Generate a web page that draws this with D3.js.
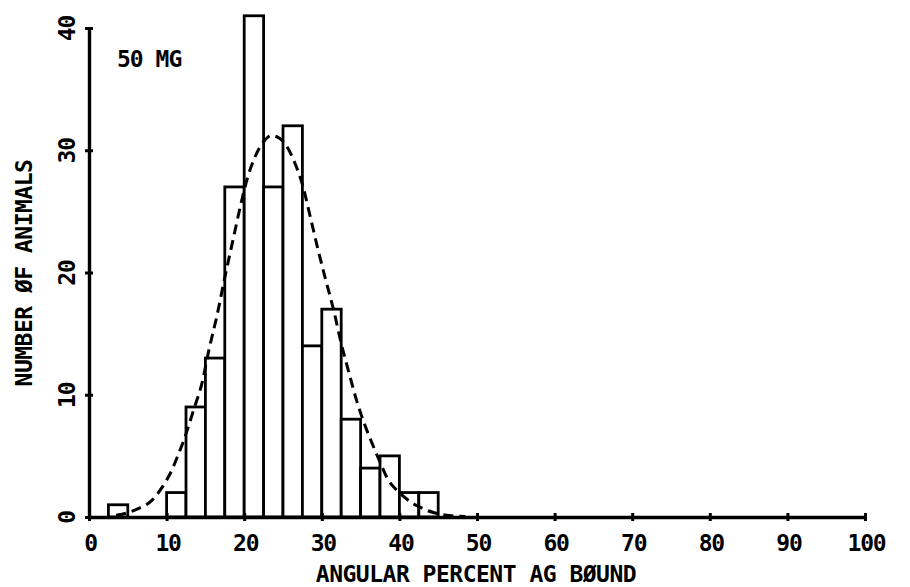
<!DOCTYPE html>
<html>
<head>
<meta charset="utf-8">
<script src="https://cdn.jsdelivr.net/npm/d3@7"></script>
<style>
  html, body { margin: 0; padding: 0; background: #fff; }
  svg { display: block; }
  text { font-family: "DejaVu Sans Mono", monospace; font-weight: bold; fill: #000; }
</style>
</head>
<body>
<svg id="chart" width="910" height="587"></svg>
<script>
// ---- data ----
const binStarts = [2.5, 10, 12.5, 15, 17.5, 20, 22.5, 25, 27.5, 30, 32.5, 35, 37.5, 40, 42.5];
const binCounts = [1, 2, 9, 13, 27, 41, 27, 32, 14, 17, 8, 4, 5, 2, 2];
const binWidth = 2.5;

const curveX = [3.5, 5, 6.2, 8, 9.5, 10.5, 11.5, 12.5, 13.5, 14.5, 15.5, 16.5, 17.5, 18.5, 19.5,
                20.5, 21.5, 22.5, 23.5, 24.5, 25.5, 26.5, 27.5, 28.5, 29.5, 30.5, 31.5, 32.5,
                33.5, 34.5, 35.5, 36.5, 37.5, 38.5, 39.5, 40.5, 41.5, 42.5, 43.5, 44.5, 45.5, 47, 48.5];
const curveY = [0.15, 0.35, 0.65, 1.3, 2.5, 3.6, 5.1, 6.8, 8.8, 10.8, 13.8, 16.5, 19.6, 22.5, 25.4,
                27.9, 29.6, 30.7, 31.2, 31.0, 30.3, 29.0, 27.2, 24.6, 21.9, 19.4, 17.0, 14.2,
                11.8, 9.5, 7.6, 6.0, 4.5, 3.1, 2.3, 1.7, 1.2, 0.85, 0.55, 0.35, 0.2, 0.1, 0.05];

const xTicks = [0, 10, 20, 30, 40, 50, 60, 70, 80, 90, 100];
const yTicks = [0, 10, 20, 30, 40];

const xTitle = "ANGULAR PERCENT AG BØUND";
const yTitle = "NUMBER ØF ANIMALS";
const doseLabel = "50 MG";

// ---- scales ----
const svg = d3.select("#chart");
const x = d3.scaleLinear().domain([0, 100]).range([89, 865]);
const y = d3.scaleLinear().domain([0, 40]).range([517, 28]);

// ---- bars ----
const bins = binStarts.map((s, i) => ({ x0: s, x1: s + binWidth, n: binCounts[i] }));
svg.append("g").selectAll("rect").data(bins).join("rect")
  .attr("x", d => x(d.x0))
  .attr("y", d => y(d.n))
  .attr("width", d => x(d.x1) - x(d.x0))
  .attr("height", d => y(0) - y(d.n))
  .attr("fill", "#fff")
  .attr("stroke", "#000")
  .attr("stroke-width", 2.8);

// ---- dashed fitted curve ----
const pts = curveX.map((v, i) => [v, curveY[i]]);
svg.append("path")
  .datum(pts)
  .attr("fill", "none")
  .attr("stroke", "#000")
  .attr("stroke-width", 3)
  .attr("stroke-dasharray", "10,6")
  .attr("d", d3.line().x(d => x(d[0])).y(d => y(d[1])).curve(d3.curveMonotoneX));

const tickFont = g => g
  .style("font-size", "23px")
  .style("letter-spacing", "-1.2px")
  .style("font-family", "'DejaVu Sans Mono', monospace")
  .style("font-weight", "bold");

// ---- axes ----
const xAxis = d3.axisBottom(x).tickValues(xTicks).tickSize(0).tickFormat(d3.format("d"));
const gx = svg.append("g").attr("transform", `translate(0,${y(0)})`).call(xAxis);
gx.select(".domain").attr("stroke", "#000").attr("stroke-width", 3.4);
gx.selectAll(".tick line").remove();
gx.selectAll(".tick text")
  .attr("x", 1)
  .attr("y", 26).attr("dy", "0.35em")
  .call(tickFont);
gx.selectAll(".tick").append("line")
  .attr("y1", -4).attr("y2", 4)
  .attr("stroke", "#000").attr("stroke-width", 3);

const yAxis = d3.axisLeft(y).tickValues(yTicks).tickSize(0).tickFormat(d3.format("d"));
const gy = svg.append("g").attr("transform", `translate(${x(0)},0)`).call(yAxis);
gy.select(".domain").attr("stroke", "#000").attr("stroke-width", 3.4);
gy.selectAll(".tick line").remove();
gy.selectAll(".tick text")
  .attr("x", 0).attr("dy", null)
  .attr("text-anchor", "middle")
  .attr("dominant-baseline", "central")
  .attr("transform", "translate(-22,0) rotate(-90)")
  .call(tickFont);
gy.selectAll(".tick").append("line")
  .attr("x1", -4).attr("x2", 4)
  .attr("stroke", "#000").attr("stroke-width", 3);

// ---- titles ----
svg.append("text")
  .attr("x", 476).attr("y", 574)
  .attr("text-anchor", "middle")
  .attr("dominant-baseline", "central")
  .style("font-size", "23px")
  .style("letter-spacing", "-0.5px")
  .text(xTitle);

svg.append("text")
  .attr("transform", "translate(24,273) rotate(-90)")
  .attr("text-anchor", "middle")
  .attr("dominant-baseline", "central")
  .style("font-size", "23px")
  .style("letter-spacing", "-0.5px")
  .text(yTitle);

svg.append("text")
  .attr("x", 117).attr("y", 59)
  .attr("dominant-baseline", "central")
  .style("font-size", "23px")
  .style("letter-spacing", "-1px")
  .text(doseLabel);
</script>
</body>
</html>
